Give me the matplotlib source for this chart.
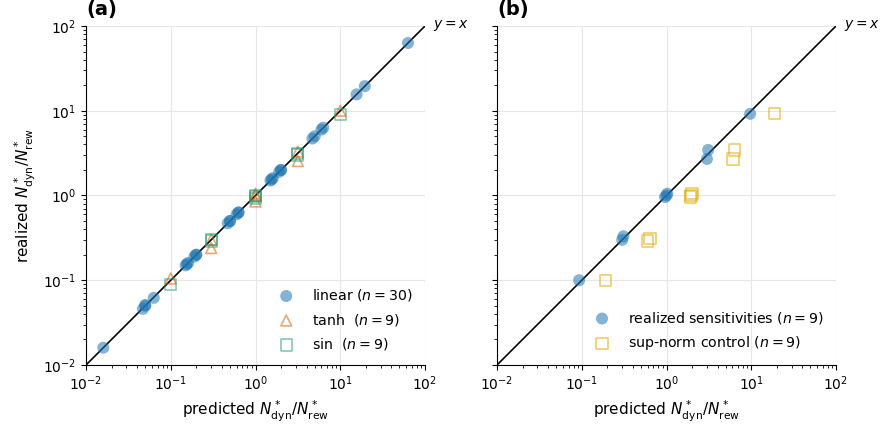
import numpy as np
import matplotlib
matplotlib.use("Agg")
import matplotlib.pyplot as plt

# Panel (a) data
lin_pred = [0.016, 0.047, 0.05, 0.05, 0.063, 0.15, 0.155, 0.16, 0.19, 0.2, 0.2,
            0.47, 0.5, 0.5, 0.6, 0.63, 0.63, 1.5, 1.55, 1.6, 1.9, 2.0, 2.0,
            4.7, 5.0, 6.0, 6.3, 15.6, 19.5, 63]
lin_real = [0.016, 0.046, 0.05, 0.051, 0.062, 0.15, 0.155, 0.16, 0.19, 0.2, 0.2,
            0.47, 0.5, 0.5, 0.6, 0.63, 0.63, 1.5, 1.55, 1.6, 1.9, 2.0, 2.0,
            4.7, 5.0, 6.0, 6.3, 15.6, 19.5, 63]
tanh_pred = [0.1, 0.3, 0.3, 1.0, 1.0, 1.0, 3.16, 3.16, 10.0]
tanh_real = [0.105, 0.3, 0.24, 0.85, 1.0, 1.05, 3.3, 2.55, 10.0]
sin_pred = [0.1, 0.3, 0.3, 1.0, 1.0, 1.0, 3.16, 3.16, 10.0]
sin_real = [0.09, 0.29, 0.3, 0.93, 0.97, 1.0, 3.0, 3.15, 9.0]

# Panel (b) data
real_pred = [0.093, 0.30, 0.31, 0.96, 1.0, 1.02, 3.0, 3.1, 9.7]
real_real = [0.10, 0.30, 0.33, 0.96, 1.0, 1.05, 2.7, 3.45, 9.2]
sup_pred = [0.19, 0.60, 0.64, 1.9, 1.95, 2.0, 6.1, 6.3, 19.0]
sup_real = [0.10, 0.29, 0.31, 0.96, 1.0, 1.05, 2.7, 3.45, 9.2]

blue = "#1f77b4"
orange = "#d95f02"
green = "#1b9e77"
yellow = "#e6ab02"

fig = plt.figure(figsize=(8.81, 4.30), dpi=100)
axw = 339 / 881
axh = 339 / 430
axb = 1 - 365 / 430
ax1 = fig.add_axes([86 / 881, axb, axw, axh])
ax2 = fig.add_axes([497 / 881, axb, axw, axh])

lims = [1e-2, 1e2]
for ax in (ax1, ax2):
    ax.set_xscale("log")
    ax.set_yscale("log")
    ax.set_xlim(lims)
    ax.set_ylim(lims)
    ax.plot(lims, lims, color="black", lw=1.2, zorder=1)
    ax.grid(True, which="major", color="#e6e6e6", lw=0.8, zorder=0)
    ax.set_axisbelow(True)
    ax.spines["top"].set_visible(False)
    ax.spines["right"].set_visible(False)
    ax.tick_params(labelsize=10)
    ax.set_xlabel(r"predicted $N^*_{\rm dyn}/N^*_{\rm rew}$", fontsize=11)
    ax.text(1.025, 1.0, r"$y = x$", transform=ax.transAxes, fontsize=10,
            ha="left", va="center")

ax1.scatter(lin_pred, lin_real, s=75, color=blue, alpha=0.55, edgecolors="none",
            label=r"linear ($n=30$)", zorder=3)
ax1.scatter(tanh_pred, tanh_real, s=60, marker="^", facecolors="none",
            edgecolors=orange, alpha=0.55, linewidths=1.2,
            label=r"tanh  ($n=9$)", zorder=3)
ax1.scatter(sin_pred, sin_real, s=65, marker="s", facecolors="none",
            edgecolors=green, alpha=0.55, linewidths=1.2,
            label=r"sin  ($n=9$)", zorder=3)
ax1.set_ylabel(r"realized $N^*_{\rm dyn}/N^*_{\rm rew}$", fontsize=11)
ax1.legend(loc="lower right", frameon=False, fontsize=10.2, labelspacing=0.6,
           bbox_to_anchor=(1.0, 0.0))
ax1.text(0.0, 1.02, "(a)", transform=ax1.transAxes, fontsize=14,
         fontweight="bold", ha="left", va="bottom")

ax2.scatter(real_pred, real_real, s=75, color=blue, alpha=0.55, edgecolors="none",
            label=r"realized sensitivities ($n=9$)", zorder=3)
ax2.scatter(sup_pred, sup_real, s=65, marker="s", facecolors="none",
            edgecolors=yellow, alpha=0.6, linewidths=1.2,
            label=r"sup-norm control ($n=9$)", zorder=3)
ax2.tick_params(labelleft=False)
ax2.legend(loc="lower right", frameon=False, fontsize=10.2, labelspacing=0.6,
           bbox_to_anchor=(1.0, 0.0))
ax2.text(0.0, 1.02, "(b)", transform=ax2.transAxes, fontsize=14,
         fontweight="bold", ha="left", va="bottom")

fig.savefig("out.png", dpi=100)
